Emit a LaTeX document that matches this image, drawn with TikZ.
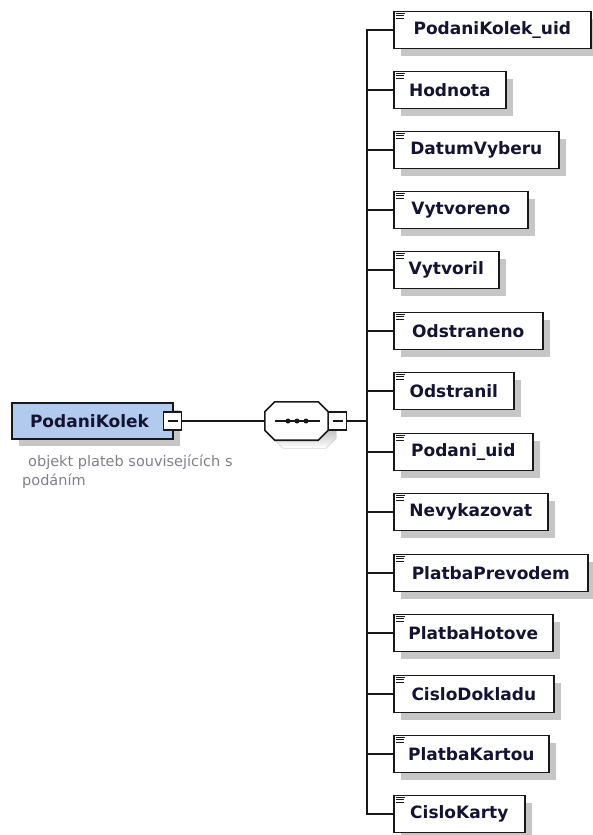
\documentclass[tikz,border=0pt]{standalone}
\usepackage{fontspec}
\setmainfont{DejaVu Sans}
\usetikzlibrary{calc,shadows}
\definecolor{elemtext}{RGB}{20,20,50}
\definecolor{rootfill}{RGB}{178,202,238}
\definecolor{shade}{RGB}{198,198,198}
\definecolor{notegray}{RGB}{128,128,138}
\definecolor{ink}{RGB}{25,25,25}
\begin{document}
\begin{tikzpicture}[x=1pt,y=-1pt,
  edge/.style={line width=1.6pt, draw=ink},
  shadowed/.style={drop shadow={shadow xshift=7pt, shadow yshift=-7pt, fill=shade, opacity=1}},
  elem/.style={draw=ink, line width=1.6pt, fill=white, shadowed, minimum height=37pt,
    inner sep=0pt, text=elemtext, font=\fontsize{17}{20}\selectfont\bfseries},
  rootbox/.style={elem, fill=rootfill, minimum width=161pt, minimum height=36pt},
  toggle/.style={draw=ink, line width=1.4pt, fill=white, minimum size=18pt, inner sep=0pt},
  note/.style={text=notegray, font=\fontsize{14.5}{19}\selectfont, align=left, inner sep=0pt},
  icon/.style={line width=0.9pt, draw=ink}
]
\useasboundingbox (0,0) rectangle (592,835);

% root element with its collapse toggle
\node[rootbox] (root) at (92.5,421) {\hspace*{-6pt}PodaniKolek};
\node[toggle] (rtog) at (172.5,421) {};
\draw[line width=1.3pt, ink] ($(rtog.center)+(-5,0)$) -- ($(rtog.center)+(5,0)$);

% annotation under the root
\node[note, anchor=north west] (doc) at (22,455)
  {\hspace*{6pt}objekt plateb souvisejících s\\podáním};

% sequence compositor
\node[minimum width=63pt, minimum height=38pt, inner sep=0pt] (seq) at (296.5,421) {};
\newcommand\octagonpath{($(seq.north west)+(10,0)$) -- ($(seq.north east)+(-10,0)$)
  -- ($(seq.north east)+(0,10)$) -- ($(seq.south east)+(0,-10)$)
  -- ($(seq.south east)+(-10,0)$) -- ($(seq.south west)+(10,0)$)
  -- ($(seq.south west)+(0,-10)$) -- ($(seq.north west)+(0,10)$) -- cycle}
\begin{scope}[transform canvas={shift={(8,8)}}]
  \fill[shade] \octagonpath;
\end{scope}
\draw[edge, fill=white] \octagonpath;
\draw[line width=1.4pt, ink] ($(seq.center)+(-21.5,0)$) -- ($(seq.center)+(23.5,0)$);
\foreach \dx in {-8.5,0.5,9.5}
  \fill[ink] ($(seq.center)+(\dx,0)$) circle (2.5);
\node[toggle] (stog) at (337.5,421) {};
\draw[line width=1.3pt, ink] ($(stog.center)+(-5,0)$) -- ($(stog.center)+(5,0)$);

\draw[edge] (rtog.east) -- (seq.west);

% bus position
\coordinate (bus) at (367,421);
\draw[edge] (stog.east) -- (bus);

% child elements
\foreach \nm/\rt/\yy [count=\i] in {
  PodaniKolek\_uid/590/30, Hodnota/505/90, DatumVyberu/558/150,
  Vytvoreno/527/210, Vytvoril/498/270, Odstraneno/542/331,
  Odstranil/513/391, Podani\_uid/532/452, Nevykazovat/547/512,
  PlatbaPrevodem/587/573, PlatbaHotove/552/633, CisloDokladu/553/694,
  PlatbaKartou/548/754, CisloKarty/524/814} {
  \node[elem, anchor=west, minimum width={\rt-393}] (c\i) at (393,\yy) {\nm};
  \draw[icon] ([shift={(3,2.5)}]c\i.north west) -- ++(8.5,0)
              ([shift={(3,5)}]c\i.north west) -- ++(8,0)
              ([shift={(3,7.5)}]c\i.north west) -- ++(8,0);
  \draw[edge] (c\i.west -| bus) -- (c\i.west);
}
\draw[edge, line cap=rect] (c1.west -| bus) -- (c14.west -| bus);
\end{tikzpicture}
\end{document}
